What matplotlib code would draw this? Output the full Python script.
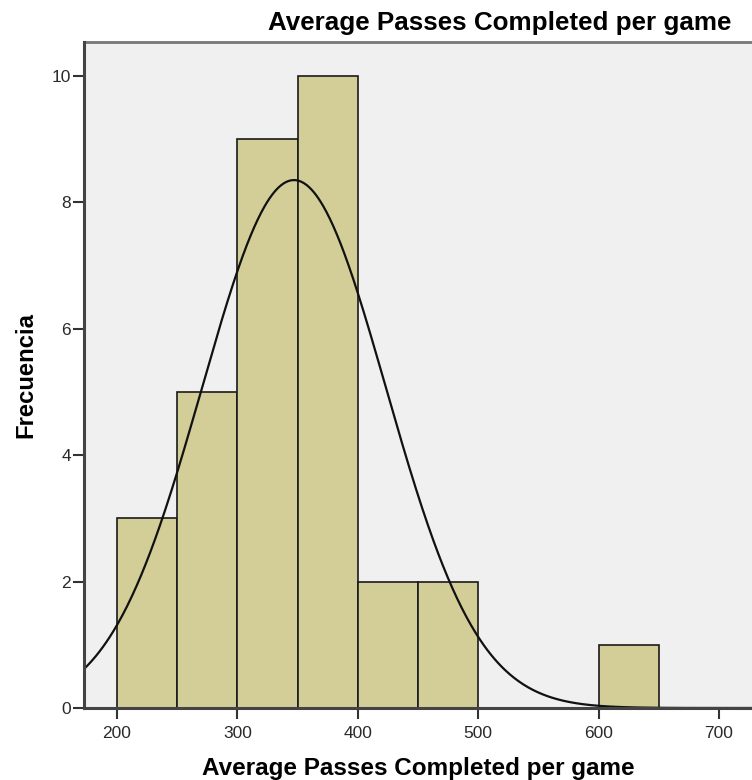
import numpy as np
import matplotlib
matplotlib.use("Agg")
import matplotlib.pyplot as plt

# Histogram bins (lower edges) and counts
bin_edges = [200, 250, 300, 350, 400, 450, 500, 550, 600, 650]
counts = [3, 5, 9, 10, 2, 2, 0, 0, 1]

# Normal curve parameters
mean_val = 347.0
std_val = 76.4
n_obs = 32
bin_width = 50

x_ticks = [200, 300, 400, 500, 600, 700]
y_ticks = [0, 2, 4, 6, 8, 10]

plt.rcParams['font.family'] = ['Liberation Sans', 'DejaVu Sans']

W, H = 752, 780
fig = plt.figure(figsize=(W / 100, H / 100), dpi=100)
ax = fig.add_axes([84 / W, (H - 708) / H, 668 / W, 666 / H])
ax.set_facecolor('#F0F0F0')

ax.bar(bin_edges[:-1], counts, width=np.diff(bin_edges), align='edge',
       color='#D3CE97', edgecolor='#1a1a1a', linewidth=1.2, zorder=2)

xs = np.linspace(160, 740, 600)
ys = n_obs * bin_width / (std_val * np.sqrt(2 * np.pi)) * np.exp(-0.5 * ((xs - mean_val) / std_val) ** 2)
ax.plot(xs, ys, color='#111111', linewidth=1.6, zorder=3)

ax.set_xlim(172.6, 727.4)
ax.set_ylim(0, 10.54)
ax.set_xticks(x_ticks)
ax.set_yticks(y_ticks)
ax.tick_params(axis='both', direction='out', length=8, width=1.5, color='#333333',
               labelsize=12.5, labelcolor='#2a2a2a')
ax.tick_params(axis='x', pad=5)
ax.tick_params(axis='y', pad=1.5)

for side in ['left', 'bottom']:
    ax.spines[side].set_color('#444444')
    ax.spines[side].set_linewidth(2.2)
    ax.spines[side].set_zorder(4)
ax.spines['top'].set_color('#777777')
ax.spines['top'].set_linewidth(2.0)
ax.spines['right'].set_visible(False)

ax.set_xlabel('Average Passes Completed per game', fontsize=17.5, fontweight='bold')
ax.xaxis.set_label_coords((418 - 84) / 668, (708 - 768) / 666)
ax.xaxis.label.set_va('center')
ax.set_ylabel('Frecuencia', fontsize=17.2, fontweight='bold')
ax.yaxis.set_label_coords((26 - 84) / 668, 0.5)
ax.yaxis.label.set_va('center')
fig.text(500 / W, 1 - 23 / H, 'Average Passes Completed per game', fontsize=18.7,
         fontweight='bold', ha='center', va='center')

fig.savefig('out.png', dpi=100, facecolor='white')
